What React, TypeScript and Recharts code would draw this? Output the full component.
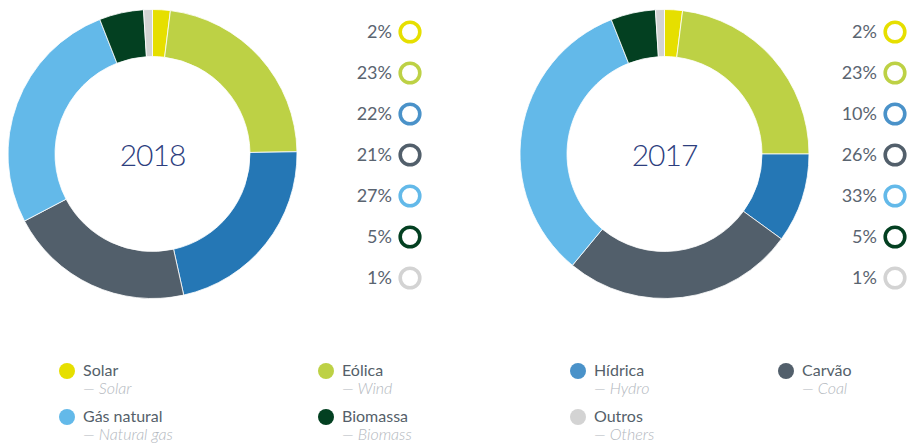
import { PieChart, Pie, Cell } from 'recharts';

const categories = ['Solar', 'Eólica', 'Hídrica', 'Carvão', 'Gás natural', 'Biomassa', 'Outros'];
const categoriesEn = ['Solar', 'Wind', 'Hydro', 'Coal', 'Natural gas', 'Biomass', 'Others'];
const values2018 = [2, 23, 22, 21, 27, 5, 1];
const values2017 = [2, 23, 10, 26, 33, 5, 1];
const sliceColors = ['#e6df00', '#bdd145', '#2577b5', '#525f6b', '#63b9e9', '#034021', '#d3d3d3'];
const markColors = ['#e6df00', '#bdd145', '#4a92c9', '#525f6b', '#63b9e9', '#034021', '#d3d3d3'];
const legendOrder = [0, 1, 2, 3, 4, 5, 6];

const FONT = 'Lato, "Noto Sans", sans-serif';

// ringX: centre of the small ring markers, relative to the donut box
const Donut = ({ year, values, left, ringX }: { year: string; values: number[]; left: number; ringX: number }) => {
  const data = categories.map((name, i) => ({ name, value: values[i] }));
  return (
    <div style={{ position: 'absolute', left, top: 0, width: 395, height: 320 }}>
      <PieChart width={310} height={310} margin={{ top: 0, right: 0, bottom: 0, left: 0 }}>
        <Pie
          data={data}
          dataKey="value"
          cx={152.5}
          cy={154}
          innerRadius={97.5}
          outerRadius={144.5}
          startAngle={90}
          endAngle={-270}
          stroke="#fff"
          strokeWidth={0.8}
          isAnimationActive={false}
        >
          {data.map((d, i) => (
            <Cell key={d.name} fill={sliceColors[i]} />
          ))}
        </Pie>
      </PieChart>
      <div
        style={{
          position: 'absolute',
          left: 52.5,
          width: 200,
          top: 136,
          textAlign: 'center',
          fontFamily: FONT,
          fontSize: 30,
          fontWeight: 300,
          letterSpacing: -1,
          color: '#2d3e7e',
        }}
      >
        {year}
      </div>
      {values.map((v, i) => (
        <div key={i} style={{ position: 'absolute', left: ringX - 120, top: 32 + i * 41 - 13, width: 133, height: 26 }}>
          <span
            style={{
              position: 'absolute',
              right: 31,
              top: 1,
              fontFamily: FONT,
              fontSize: 18,
              fontWeight: 400,
              color: '#5a6470',
            }}
          >
            {v}%
          </span>
          <svg width={26} height={26} style={{ position: 'absolute', left: 107, top: 0 }}>
            <circle cx={13} cy={13} r={9.8} fill="none" stroke={markColors[i]} strokeWidth={3.6} />
          </svg>
        </div>
      ))}
    </div>
  );
};

const legendCols = [67, 326, 578, 786];
const legendRows = [371, 417];

export default function App() {
  return (
    <div style={{ position: 'absolute', left: 0, top: 0, width: 907, height: 444, background: '#fff', overflow: 'hidden' }}>
      <Donut year="2018" values={values2018} left={0} ringX={410} />
      <Donut year="2017" values={values2017} left={512} ringX={383} />
      {legendOrder.map((idx, k) => {
        const x = legendCols[k % 4];
        const y = legendRows[Math.floor(k / 4)];
        return (
          <div key={idx} style={{ position: 'absolute', left: x - 8, top: y - 8 }}>
            <div style={{ width: 16, height: 16, borderRadius: 8, background: markColors[idx] }} />
            <div
              style={{
                position: 'absolute',
                left: 24,
                top: -3,
                whiteSpace: 'nowrap',
                fontFamily: FONT,
                fontSize: 16,
                color: '#555f6a',
              }}
            >
              {categories[idx]}
            </div>
            <div
              style={{
                position: 'absolute',
                left: 24,
                top: 15,
                whiteSpace: 'nowrap',
                fontFamily: FONT,
                fontSize: 16,
                fontWeight: 300,
                fontStyle: 'italic',
                color: '#b3b8be',
              }}
            >
              — {categoriesEn[idx]}
            </div>
          </div>
        );
      })}
    </div>
  );
}
